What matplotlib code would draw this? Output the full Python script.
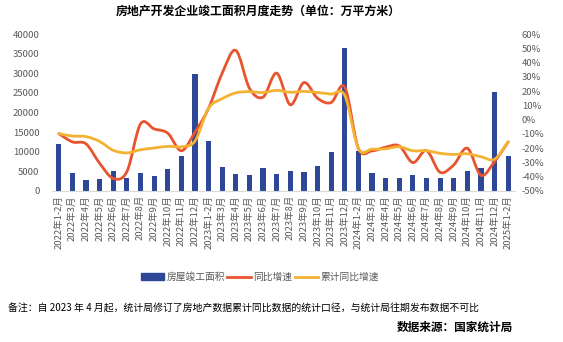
import matplotlib
matplotlib.use('Agg')
import matplotlib.pyplot as plt
from matplotlib.path import Path
from matplotlib.patches import PathPatch, Patch
from matplotlib.lines import Line2D
from matplotlib.ticker import FuncFormatter, MultipleLocator
import numpy as np

plt.rcParams['font.family'] = ['Noto Sans CJK SC', 'DejaVu Sans']

# x categories: 2022-01/02 .. 2025-01/02
months = ['1-2', '3', '4', '5', '6', '7', '8', '9', '10', '11', '12']
labels = [f'{y}年{m}月' for y in (2022, 2023, 2024) for m in months] + ['2025年1-2月']

# 房屋竣工面积 (万平方米)
area = [12000, 4600, 2800, 3100, 5100, 3300, 4600, 3900, 5600, 8800, 29900,
        12800, 6100, 4300, 4100, 5900, 4300, 5100, 4850, 6400, 10000, 36500,
        10200, 4600, 3300, 3300, 4100, 3300, 3300, 3300, 5100, 5900, 25300,
        8800]

# 同比增速 (%)
yoy = [-9.8, -15.6, -17.0, -30.6, -41.2, -36.4, -3.0, -6.5, -9.5, -21.8, -8.8,
       8.0, 32.6, 48.5, 22.0, 15.8, 32.6, 10.4, 26.0, 15.0, 12.0, 22.8,
       -20.2, -21.9, -19.3, -18.4, -30.1, -21.7, -36.9, -31.7, -20.0, -39.0, -29.4,
       -15.6]

# 累计同比增速 (%)
cum = [-9.8, -11.5, -11.9, -15.3, -21.5, -23.3, -21.1, -19.9, -18.7, -19.0, -15.0,
       8.0, 14.7, 18.8, 19.6, 19.0, 20.5, 19.2, 19.8, 19.0, 17.9, 17.0,
       -20.2, -20.7, -20.4, -19.0, -21.8, -21.8, -23.6, -24.4, -23.9, -26.0, -27.7,
       -15.6]

BLUE = '#2E4797'
RED = '#E8542E'
YELLOW = '#F4B233'
GREY = '#595959'


def smooth_path(xs, ys):
    """Excel-style smoothed line as cubic bezier through the points."""
    pts = np.column_stack([xs, ys])
    n = len(pts)
    verts = [pts[0]]
    codes = [Path.MOVETO]
    for i in range(n - 1):
        p0 = pts[max(i - 1, 0)]
        p1 = pts[i]
        p2 = pts[i + 1]
        p3 = pts[min(i + 2, n - 1)]
        c1 = p1 + (p2 - p0) / 6
        c2 = p2 - (p3 - p1) / 6
        verts += [c1, c2, p2]
        codes += [Path.CURVE4] * 3
    return Path(verts, codes)


fig = plt.figure(figsize=(5.63, 3.42), dpi=100)
ax = fig.add_axes([52 / 563, 1 - 191 / 342, 463 / 563, 157 / 342])
ax2 = ax.twinx()

x = np.arange(len(labels))
ax.bar(x, area, width=0.38, color=BLUE, zorder=1)

for vals, col in ((yoy, RED), (cum, YELLOW)):
    p = smooth_path(x, np.array(vals) / 100)
    ax2.add_patch(PathPatch(p, fill=False, edgecolor=col, lw=2.0,
                            capstyle='round', joinstyle='round'))

ax.set_xlim(-0.5, len(labels) - 0.5)
ax.set_ylim(0, 40000)
ax.yaxis.set_major_locator(MultipleLocator(5000))
ax2.set_ylim(-0.5, 0.6)
ax2.yaxis.set_major_locator(MultipleLocator(0.1))
ax2.yaxis.set_major_formatter(FuncFormatter(lambda v, _: f'{v * 100:.0f}%'))

ax.set_xticks(x)
ax.set_xticklabels(labels, rotation=90, fontsize=6.8, color=GREY)
for a in (ax, ax2):
    for s in a.spines.values():
        s.set_visible(False)
    a.tick_params(length=0, labelsize=6.8, labelcolor=GREY)
ax.spines['bottom'].set_visible(True)
ax.spines['bottom'].set_color('#D9D9D9')
ax.tick_params(axis='y', pad=9)
ax.tick_params(axis='x', pad=3)
ax2.tick_params(axis='y', pad=5)

fig.text(258 / 563, 1 - 11 / 342, '房地产开发企业竣工面积月度走势（单位：万平方米）',
         ha='center', va='center', fontsize=8.6, fontweight='bold')

handles = [Patch(color=BLUE), Line2D([], [], color=RED, lw=2.0),
           Line2D([], [], color=YELLOW, lw=2.0)]
fig.legend(handles, ['房屋竣工面积', '同比增速', '累计同比增速'],
           loc='center', bbox_to_anchor=(260 / 563, 1 - 277 / 342), ncol=3,
           frameon=False, fontsize=7, labelcolor=GREY, handlelength=2.4,
           handleheight=0.7, handletextpad=0.3, columnspacing=0.2)

fig.text(8 / 563, 1 - 309 / 342,
         '备注：自 2023 年 4 月起，统计局修订了房地产数据累计同比数据的统计口径，与统计局往期发布数据不可比',
         ha='left', va='center', fontsize=7.1)
fig.text(513 / 563, 1 - 327 / 342, '数据来源：国家统计局',
         ha='right', va='center', fontsize=8.4, fontweight='bold')

fig.savefig('out.png', dpi=100)
